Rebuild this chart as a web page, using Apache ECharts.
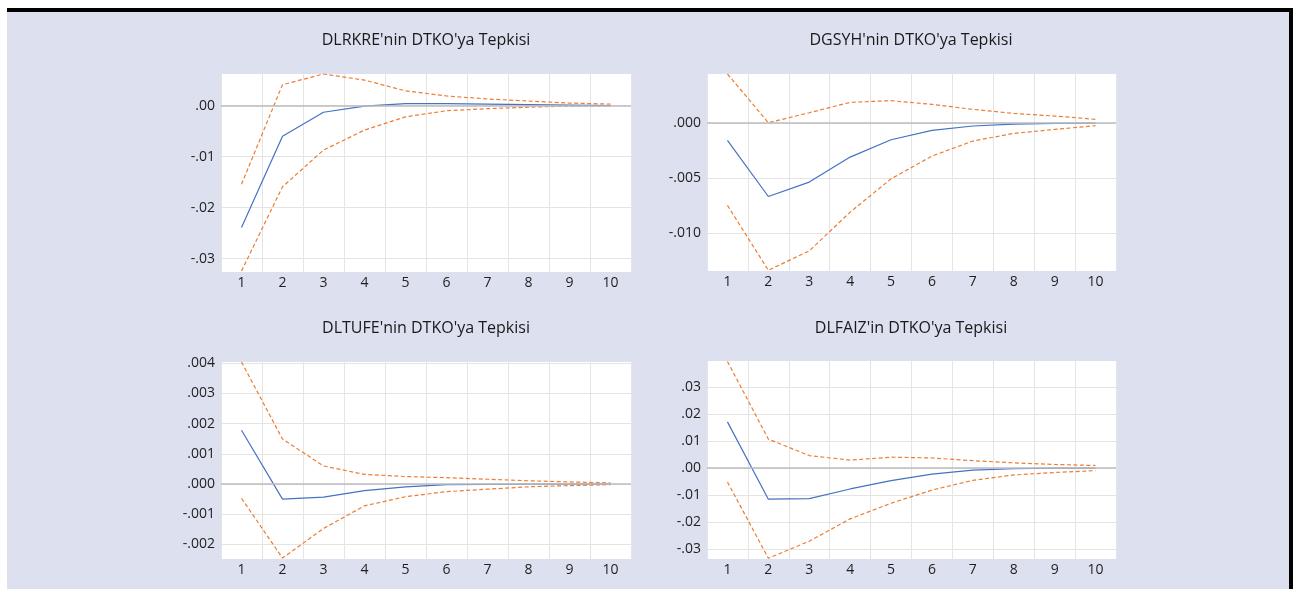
<!DOCTYPE html>
<html><head><meta charset="utf-8">
<script src="https://cdn.jsdelivr.net/npm/echarts@6/dist/echarts.min.js"></script>
<style>
html,body{margin:0;padding:0;background:#fff;width:1299px;height:590px;overflow:hidden}
#frame{position:absolute;left:7px;top:8px;width:1286px;height:581px;background:#dce0ef;border-top:4px solid #000;border-right:4px solid #000;box-sizing:border-box}
#chart{position:absolute;left:0;top:0;width:1299px;height:590px}
</style></head><body><div id="frame"></div><div id="chart"></div>
<script>
const periods = ['1','2','3','4','5','6','7','8','9','10'];
const titles = ["DLRKRE'nin DTKO'ya Tepkisi", "DGSYH'nin DTKO'ya Tepkisi", "DLTUFE'nin DTKO'ya Tepkisi", "DLFAIZ'in DTKO'ya Tepkisi"];

// Panel 1: DLRKRE
const p1Response = [-0.0239, -0.0060, -0.0013, -0.0001, 0.0004, 0.0004, 0.0003, 0.0002, 0.0001, 0.0000];
const p1Upper    = [-0.0154, 0.0041, 0.0062, 0.0050, 0.0029, 0.0019, 0.0013, 0.0009, 0.0005, 0.0003];
const p1Lower    = [-0.0324, -0.0159, -0.0087, -0.0048, -0.0022, -0.0010, -0.0006, -0.0003, -0.0001, -0.0000];
const p1Ticks    = [0, -0.01, -0.02, -0.03];
const p1Range    = [-0.0326, 0.0062];

// Panel 2: DGSYH
const p2Response = [-0.00158, -0.00669, -0.00538, -0.0031, -0.00152, -0.00067, -0.00027, -0.0001, -0.00003, 0.0000];
const p2Upper    = [0.00447, 0.00003, 0.00094, 0.00189, 0.00204, 0.0017, 0.00125, 0.00088, 0.00064, 0.00034];
const p2Lower    = [-0.0075, -0.01341, -0.01165, -0.00812, -0.00508, -0.00301, -0.00164, -0.00094, -0.00058, -0.00024];
const p2Ticks    = [0, -0.005, -0.010];
const p2Range    = [-0.01348, 0.00447];

// Panel 3: DLTUFE
const p3Response = [0.00178, -0.0005, -0.00043, -0.00022, -0.00009, -0.00002, -0.00001, 0, 0, 0];
const p3Upper    = [0.00404, 0.00149, 0.0006, 0.00032, 0.00025, 0.00021, 0.00016, 0.00011, 0.00007, 0.00004];
const p3Lower    = [-0.00047, -0.00245, -0.00147, -0.00072, -0.00042, -0.00025, -0.00017, -0.00009, -0.00005, -0.00002];
const p3Ticks    = [0.004, 0.003, 0.002, 0.001, 0, -0.001, -0.002];
const p3Range    = [-0.00248, 0.00404];

// Panel 4: DLFAIZ
const p4Response = [0.0172, -0.0115, -0.0113, -0.0077, -0.0046, -0.0022, -0.0007, -0.0002, 0.0000, 0.0000];
const p4Upper    = [0.0396, 0.0108, 0.0047, 0.0030, 0.0041, 0.0038, 0.0028, 0.0020, 0.0014, 0.0010];
const p4Lower    = [-0.0051, -0.0334, -0.0271, -0.0188, -0.0130, -0.0081, -0.0045, -0.0025, -0.0016, -0.0009];
const p4Ticks    = [0.03, 0.02, 0.01, 0, -0.01, -0.02, -0.03];
const p4Range    = [-0.0337, 0.0398];

const panels = [
  {resp: p1Response, up: p1Upper, lo: p1Lower, ticks: p1Ticks, range: p1Range, dec: 2,
   grid: {left: 221, top: 74, width: 410, height: 198}, title: [426, 40]},
  {resp: p2Response, up: p2Upper, lo: p2Lower, ticks: p2Ticks, range: p2Range, dec: 3,
   grid: {left: 707, top: 74, width: 409, height: 197}, title: [911, 40]},
  {resp: p3Response, up: p3Upper, lo: p3Lower, ticks: p3Ticks, range: p3Range, dec: 3,
   grid: {left: 221, top: 362, width: 410, height: 197}, title: [426, 328]},
  {resp: p4Response, up: p4Upper, lo: p4Lower, ticks: p4Ticks, range: p4Range, dec: 2,
   grid: {left: 707, top: 361, width: 409, height: 198}, title: [911, 328]}
];

const FONT = '"Open Sans", Lato, sans-serif';
const BLUE = '#4472c4', ORANGE = '#ed7d31';

function fmt(v, d) {
  let s = Math.abs(v).toFixed(d).replace(/^0\./, '.');
  if (v < 0 && Math.abs(v) > 1e-12) s = '-' + s;
  return s;
}

const option = {animation: false, grid: [], xAxis: [], yAxis: [], series: [], graphic: []};
panels.forEach((p, i) => {
  option.grid.push(Object.assign({show: true, backgroundColor: '#fff', borderWidth: 0}, p.grid));
  option.xAxis.push({
    type: 'category', gridIndex: i, data: periods, boundaryGap: true,
    axisLine: {show: false}, axisTick: {show: false},
    axisLabel: {color: '#1f1f1f', fontFamily: FONT, fontSize: 14, margin: 4},
    splitLine: {show: true, lineStyle: {color: '#e4e4e4', width: 1}}
  });
  option.yAxis.push({
    type: 'value', gridIndex: i, min: p.range[0], max: p.range[1],
    axisLine: {show: false},
    axisTick: {show: false, customValues: p.ticks},
    axisLabel: {customValues: p.ticks, color: '#1f1f1f', fontFamily: FONT, fontSize: 14, margin: 6,
                formatter: v => fmt(v, p.dec)},
    splitLine: {show: true, lineStyle: {color: '#e4e4e4', width: 1}}
  });
  option.series.push({
    type: 'line', xAxisIndex: i, yAxisIndex: i, data: p.resp.map(() => null), z: 1, silent: true,
    showSymbol: false,
    markLine: {silent: true, symbol: 'none', label: {show: false}, animation: false,
      lineStyle: {color: '#bdbdbd', width: 1.5, type: 'solid'}, data: [{yAxis: 0}]}
  });
  option.series.push({
    type: 'line', xAxisIndex: i, yAxisIndex: i, data: p.resp, z: 3, showSymbol: false,
    lineStyle: {color: BLUE, width: 1.2}, itemStyle: {color: BLUE}
  });
  [p.up, p.lo].forEach(arr => option.series.push({
    type: 'line', xAxisIndex: i, yAxisIndex: i, data: arr, z: 2, showSymbol: false,
    lineStyle: {color: ORANGE, width: 1.2, type: [4, 2.5]}, itemStyle: {color: ORANGE}
  }));
  option.graphic.push({
    type: 'text', x: p.title[0], y: p.title[1],
    style: {text: titles[i], align: 'center', verticalAlign: 'middle', fill: '#1a1a1a',
            font: '16px ' + FONT}
  });
});

const chart = echarts.init(document.getElementById('chart'), null, {renderer: 'canvas'});
chart.setOption(option);
</script></body></html>
